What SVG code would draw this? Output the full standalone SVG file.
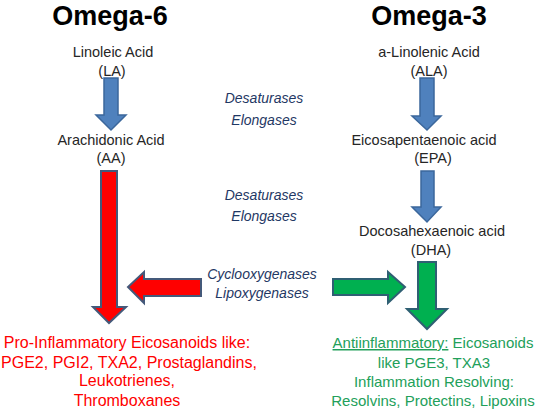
<svg xmlns="http://www.w3.org/2000/svg" width="536" height="411" viewBox="0 0 536 411">
<style>
text{font-family:"Liberation Sans",Arial,sans-serif;text-anchor:middle}
.title{font-size:27px;font-weight:bold;fill:#000}
.lbl{font-size:14.5px;fill:#262626}
.enz{font-size:14px;font-style:italic;fill:#1f3864}
.red{font-size:16px;fill:#ff0000}
.grn{font-size:15px;fill:#22a05a}
.blue{fill:#4f81bd;stroke:#3b679c;stroke-width:1.5}
.ra{fill:#ff0000;stroke:#44597a;stroke-width:2}
.ga{fill:#00b050;stroke:#2f5f73;stroke-width:2}
</style>
<rect width="536" height="411" fill="#fff"/>
<g id="titles">
<text class="title" x="110" y="25">Omega-6</text>
<text class="title" x="429" y="25">Omega-3</text>
</g>
<g id="node-la"><text class="lbl" x="113" y="57">Linoleic Acid</text><text class="lbl" x="112" y="76">(LA)</text></g>
<g id="node-aa"><text class="lbl" x="111" y="145">Arachidonic Acid</text><text class="lbl" x="111" y="163">(AA)</text></g>
<g id="node-ala"><text class="lbl" x="429" y="57">a-Linolenic Acid</text><text class="lbl" x="429" y="76">(ALA)</text></g>
<g id="node-epa"><text class="lbl" x="424" y="145">Eicosapentaenoic acid</text><text class="lbl" x="433" y="163">(EPA)</text></g>
<g id="node-dha"><text class="lbl" x="432" y="236">Docosahexaenoic acid</text><text class="lbl" x="431" y="255">(DHA)</text></g>
<g id="node-pro">
<text class="red" x="127" y="348">Pro-Inflammatory Eicosanoids like:</text>
<text class="red" x="129" y="368">PGE2, PGI2, TXA2, Prostaglandins,</text>
<text class="red" x="127" y="386">Leukotrienes,</text>
<text class="red" x="127" y="406">Thromboxanes</text>
</g>
<g id="node-anti">
<text class="grn" x="433" y="348"><tspan text-decoration="underline">Antiinflammatory:</tspan> Eicosanoids</text>
<text class="grn" x="434" y="368">like PGE3, TXA3</text>
<text class="grn" x="434" y="387">Inflammation Resolving:</text>
<text class="grn" x="433" y="406">Resolvins, Protectins, Lipoxins</text>
</g>
<g id="enzymes">
<text class="enz" x="264" y="103">Desaturases</text>
<text class="enz" x="264" y="125">Elongases</text>
<text class="enz" x="264" y="200">Desaturases</text>
<text class="enz" x="264" y="221">Elongases</text>
<text class="enz" x="262" y="279">Cyclooxygenases</text>
<text class="enz" x="262" y="298">Lipoxygenases</text>
</g>
<g id="connectors">
<polygon class="blue" points="104,78 118,78 118,115 126,115 111,130 96,115 104,115"/>
<polygon class="blue" points="420,78 434,78 434,116 441,116 427,130 412,116 420,116"/>
<polygon class="blue" points="421,171 434,171 434,207 441,207 427,222 412,207 421,207"/>
<polygon class="ra" points="101,171 117,171 117,307 126,307 109,323 93,307 101,307"/>
<polygon class="ra" points="201,279 201,296 144,296 144,303 128,287 144,272 144,279"/>
<polygon class="ga" points="418,262 436,262 436,309 447,309 427,329 407,309 418,309"/>
<polygon class="ga" points="333,279 388,279 388,272 405,287 388,303 388,295 333,295"/>
</g>
</svg>
